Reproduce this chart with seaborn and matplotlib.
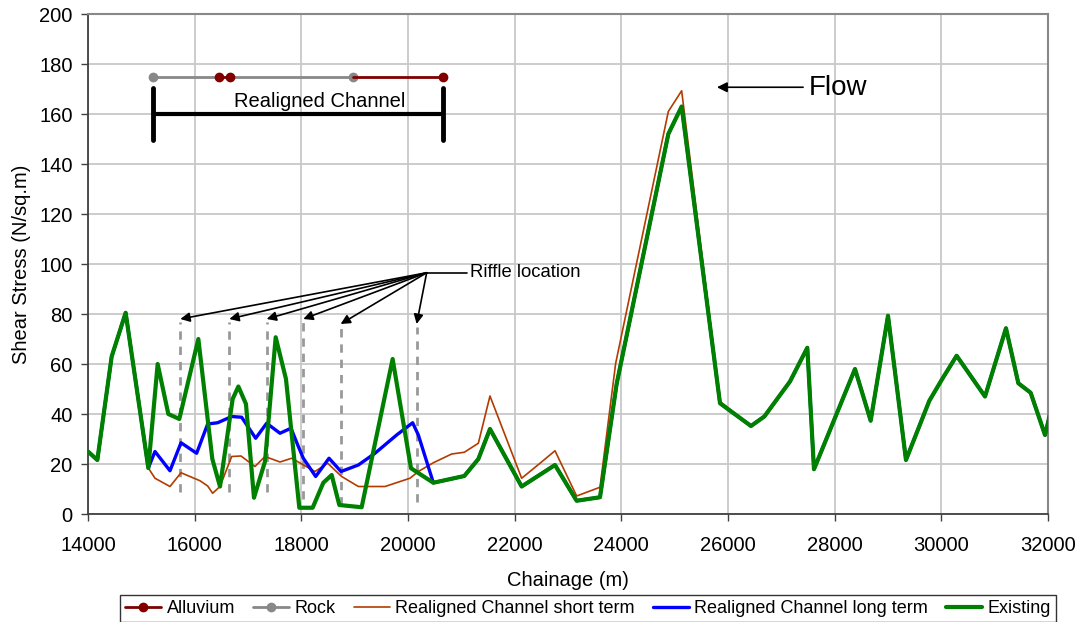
import numpy as np
import pandas as pd
import seaborn as sns
import matplotlib.pyplot as plt

# --- Values ---
existing_x = [14000, 14175, 14444, 14706, 15131, 15306, 15506, 15712, 16069, 16331,
              16475, 16712, 16819, 16962, 17112, 17319, 17519, 17712, 17962, 18212,
              18412, 18569, 18712, 19131, 19712, 20056, 20475, 21056, 21319, 21537,
              22131, 22756, 23162, 23600, 23912, 24881, 25131, 25850, 26431, 26681,
              27162, 27487, 27612, 28381, 28675, 29000, 29337, 29775, 30025, 30287,
              30819, 31212, 31444, 31675, 31944, 32088]
existing_y = [25, 21.6, 63, 80.5, 18.4, 60, 40, 38, 70, 22,
              11, 46, 51, 44, 6.5, 21, 70.7, 54, 2.5, 2.5,
              12.5, 15.6, 3.6, 2.7, 62, 18.3, 12.5, 15.2, 22, 34,
              11, 19.6, 5.3, 6.7, 52, 152, 163, 44.3, 35.2, 39,
              53, 66.5, 17.9, 58, 37.3, 79.3, 21.6, 45.3, 54.3, 63.3,
              47, 74.3, 52.3, 48.5, 31.6, 44.4]

short_x = [14000, 14175, 14444, 14706, 15131, 15256, 15537, 15744, 16100, 16244,
           16337, 16475, 16694, 16869, 17131, 17319, 17600, 17819, 18256, 18494,
           18756, 19069, 19569, 20037, 20194, 20475, 20819, 21056, 21319, 21537,
           22131, 22475, 22756, 23162, 23600, 23894, 24881, 25131, 25850, 26431,
           26681, 27162, 27487, 27612, 28381, 28675, 29000, 29337, 29775, 30025,
           30287, 30819, 31212, 31444, 31675, 31944, 32088]
short_y = [25, 21.6, 63, 80.5, 18.4, 14.3, 11, 16.5, 13.3, 11.2,
           8.3, 11, 23, 23.2, 19, 23, 20.8, 22.3, 17, 20.3,
           15, 11, 11, 14.3, 17, 20.5, 24, 24.7, 28.3, 47.2,
           14.3, 20.3, 25.3, 7.2, 10.7, 60.3, 161, 169.3, 45, 35.2,
           39, 53, 66.5, 17.9, 58, 37.3, 79.3, 21.6, 45.3, 54.3,
           63.3, 47, 74.3, 52.3, 48.5, 31.6, 44.4]

long_x = [14000, 14175, 14444, 14706, 15131, 15256, 15537, 15744, 16037, 16244,
          16431, 16694, 16881, 17144, 17350, 17600, 17806, 17944, 18037, 18269,
          18519, 18744, 19069, 19381, 19787, 20087, 20194, 20475, 21056, 21319,
          21537, 22131, 22756, 23162, 23600, 23912, 24881, 25131, 25850, 26431,
          26681, 27162, 27487, 27612, 28381, 28675, 29000, 29337, 29775, 30025,
          30287, 30819, 31212, 31444, 31675, 31944, 32088]
long_y = [25, 21.6, 63, 80.5, 18.4, 25, 17.3, 28.5, 24.3, 36,
          36.5, 39, 38.7, 30.3, 36.3, 32.3, 34.3, 27, 22.3, 15,
          22.3, 17, 19.6, 24.3, 31.6, 36.5, 31.6, 12.5, 15.2, 22,
          34, 11, 19.6, 5.3, 6.7, 52, 152, 163, 44.3, 35.2,
          39, 53, 66.5, 17.9, 58, 37.3, 79.3, 21.6, 45.3, 54.3,
          63.3, 47, 74.3, 52.3, 48.5, 31.6, 44.4]

# bed material bar along the realigned reach (plotted at 175)
rock_x = [15212, 16456, np.nan, 16662, 18962]
rock_y = [175, 175, np.nan, 175, 175]
alluvium_x = [16456, 16662, np.nan, 18962, 20662]
alluvium_y = [175, 175, np.nan, 175, 175]

realigned_start, realigned_end = 15212, 20662
riffle_x = [15731, 16650, 17350, 18037, 18737, 20162]
riffle_top = [77, 77, 77, 77, 75, 75]
riffle_bottom = [9, 9, 9, 6, 3.5, 5]

sns.set_theme(style="whitegrid")
plt.rcParams['font.family'] = ['Liberation Sans', 'DejaVu Sans']
plt.rcParams['text.color'] = 'black'
plt.rcParams['axes.labelcolor'] = 'black'
plt.rcParams['xtick.color'] = 'black'
plt.rcParams['ytick.color'] = 'black'

fig = plt.figure(figsize=(10.82, 6.22), dpi=100)
ax = fig.add_axes([88 / 1082, 1 - 514 / 622, 960 / 1082, 500 / 622])

# riffle markers (dashed grey verticals)
for x, t, b in zip(riffle_x, riffle_top, riffle_bottom):
    ax.plot([x, x], [b, t], ls=(0, (3, 2.5)), color='#999999', lw=2, zorder=2)

rock_line, = ax.plot(rock_x, rock_y, color='#888888', lw=2, marker='o', ms=6,
                     markevery=[0, 4], label='Rock', zorder=3)
alluv_line, = ax.plot(alluvium_x, alluvium_y, color='#800000', lw=2, marker='o', ms=6,
                      markevery=[0, 1, 4], label='Alluvium', zorder=3)

df_short = pd.DataFrame({'x': short_x, 'y': short_y})
df_long = pd.DataFrame({'x': long_x, 'y': long_y})
df_exist = pd.DataFrame({'x': existing_x, 'y': existing_y})
sns.lineplot(data=df_short, x='x', y='y', ax=ax, color='#B23C00', lw=1.2,
             sort=False, label='Realigned Channel short term', zorder=4)
sns.lineplot(data=df_long, x='x', y='y', ax=ax, color='#0000FF', lw=2.4,
             sort=False, label='Realigned Channel long term', zorder=5)
sns.lineplot(data=df_exist, x='x', y='y', ax=ax, color='#008000', lw=3,
             sort=False, label='Existing', zorder=6)

# realigned channel span
ax.plot([realigned_start, realigned_end], [160, 160], color='black', lw=3,
        solid_capstyle='butt', zorder=3)
for x in (realigned_start, realigned_end):
    ax.plot([x, x], [149.5, 170.5], color='black', lw=3.5, solid_capstyle='round', zorder=3)
ax.text(18350, 165, 'Realigned Channel', ha='center', va='center', fontsize=14.5)

# flow arrow
ax.annotate('', xy=(25740, 170.7), xytext=(27460, 170.7),
            arrowprops=dict(arrowstyle='-|>', color='black', lw=1.2, mutation_scale=15))
ax.text(27520, 170.4, 'Flow', ha='left', va='center', fontsize=20)

# riffle location callout
hub = (20350, 96.5)
ax.plot([hub[0], 21100], [hub[1], hub[1]], color='black', lw=1.2)
ax.text(21162, 96.5, 'Riffle location', ha='left', va='center', fontsize=13.3)
for x, t in zip(riffle_x, riffle_top):
    ax.annotate('', xy=(x, t + 1), xytext=hub,
                arrowprops=dict(arrowstyle='-|>', color='black', lw=1.2,
                                mutation_scale=14, shrinkA=0, shrinkB=0))

ax.set_xlim(14000, 32000)
ax.set_ylim(0, 200)
ax.set_xticks(np.arange(14000, 32001, 2000))
ax.set_yticks(np.arange(0, 201, 20))
ax.tick_params(axis='both', labelsize=14.5, length=5, width=1, color='#404040',
               direction='out', bottom=True, left=True)
ax.tick_params(axis='x', pad=11)
ax.tick_params(axis='y', pad=6)
ax.grid(True, color='#c8c8c8', lw=1.3)
ax.set_axisbelow(True)
for side in ('left', 'bottom'):
    ax.spines[side].set_color('#404040')
    ax.spines[side].set_linewidth(1.3)
for side in ('top', 'right'):
    ax.spines[side].set_color('#888888')
    ax.spines[side].set_linewidth(1.5)
ax.set_xlabel('Chainage (m)', fontsize=14.5, labelpad=11)
ax.set_ylabel('Shear Stress (N/sq.m)', fontsize=14.5, labelpad=6)

h, l = ax.get_legend_handles_labels()
order = ['Alluvium', 'Rock', 'Realigned Channel short term',
         'Realigned Channel long term', 'Existing']
hmap = dict(zip(l, h))
leg = ax.legend([hmap[k] for k in order], order, loc='lower center',
                bbox_to_anchor=(0.5 + 20 / 960, -0.215), ncol=5, frameon=True,
                fancybox=False, edgecolor='black',
                prop={'family': ['Liberation Sans Narrow', 'Liberation Sans'], 'size': 13},
                handlelength=2.0, handletextpad=0.3, columnspacing=1.0,
                borderpad=0.25, borderaxespad=0)
leg.get_frame().set_linewidth(1)

fig.savefig('out.png', dpi=100)
